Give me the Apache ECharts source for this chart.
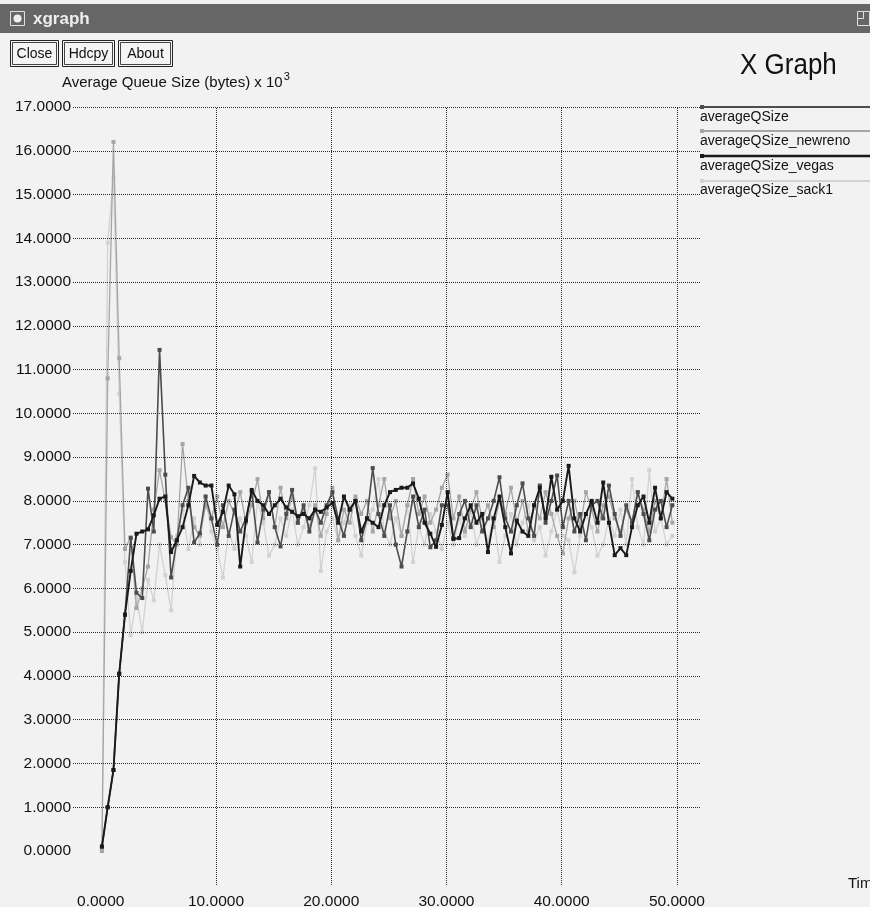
<!DOCTYPE html>
<html><head><meta charset="utf-8">
<script src="https://cdn.jsdelivr.net/npm/echarts@6/dist/echarts.min.js"></script>
<style>html,body{margin:0;padding:0;background:#f2f2f2}#c{width:870px;height:907px}</style>
</head><body><div id="c"></div><script>
const times = [0.1,0.6,1.1,1.6,2.1,2.6,3.1,3.6,4.1,4.6,5.1,5.6,6.1,6.6,7.1,7.6,8.1,8.6,9.1,9.6,
10.1,10.6,11.1,11.6,12.1,12.6,13.1,13.6,14.1,14.6,15.1,15.6,16.1,16.6,17.1,17.6,18.1,18.6,19.1,19.6,
20.1,20.6,21.1,21.6,22.1,22.6,23.1,23.6,24.1,24.6,25.1,25.6,26.1,26.6,27.1,27.6,28.1,28.6,29.1,29.6,
30.1,30.6,31.1,31.6,32.1,32.6,33.1,33.6,34.1,34.6,35.1,35.6,36.1,36.6,37.1,37.6,38.1,38.6,39.1,39.6,
40.1,40.6,41.1,41.6,42.1,42.6,43.1,43.6,44.1,44.6,45.1,45.6,46.1,46.6,47.1,47.6,48.1,48.6,49.1,49.6];

const averageQSize = [0.1,1.0,1.85,4.05,5.4,7.15,5.9,5.78,8.28,7.3,
11.45,8.6,6.25,7.1,7.9,8.3,7.05,7.26,8.1,7.6,
7.0,7.9,7.2,7.8,7.3,7.6,8.2,7.05,7.8,8.2,
7.4,6.96,7.7,8.25,7.5,7.9,7.3,7.8,7.5,7.9,
8.2,7.6,7.2,7.8,8.0,7.1,7.6,8.75,7.7,7.2,
7.9,7.0,6.5,7.3,8.1,7.4,7.8,6.94,7.1,7.9,
7.9,7.15,7.7,8.0,7.4,7.9,7.3,7.6,8.0,8.54,
7.6,7.3,7.9,8.4,7.6,7.2,8.35,7.5,8.0,8.58,
7.4,8.0,7.3,7.7,7.1,7.9,8.0,7.6,8.35,7.7,
7.2,7.9,7.5,8.2,7.7,7.1,7.8,8.0,7.4,7.9];

const newreno = [0.0,10.8,16.2,11.26,6.9,7.17,5.55,6.0,6.5,7.8,
8.7,8.0,7.17,7.0,9.3,8.0,7.4,7.2,7.9,7.6,
8.1,7.4,8.0,7.7,8.2,7.5,7.9,8.5,7.6,8.2,
7.4,8.3,7.6,8.1,7.5,7.8,7.4,7.9,7.2,7.7,
8.3,7.1,7.8,7.5,8.1,7.7,8.0,7.3,7.9,8.5,
7.6,8.0,7.2,7.9,8.5,7.7,8.1,7.5,7.8,8.3,
8.6,7.6,8.1,7.3,7.8,8.2,7.6,7.9,7.4,8.0,
7.7,8.3,7.5,8.0,7.3,7.9,7.6,8.2,7.7,7.2,
6.8,7.6,8.0,7.4,8.2,7.8,7.3,7.9,8.1,7.6,
7.3,7.8,7.5,8.2,7.8,7.3,8.0,7.6,8.5,7.5];

const vegas = [0.1,1.0,1.85,4.05,5.4,6.4,7.25,7.3,7.35,7.67,
8.05,8.1,6.83,7.1,7.4,7.9,8.57,8.42,8.35,8.35,
7.45,7.75,8.35,8.15,6.5,7.55,8.25,8.0,7.9,7.7,
7.9,8.05,7.85,7.75,7.65,7.7,7.6,7.8,7.75,7.85,
7.95,7.5,8.1,7.8,8.0,7.3,7.6,7.5,7.4,7.9,
8.2,8.25,8.3,8.3,8.4,8.05,7.5,7.25,6.95,7.45,
8.2,7.13,7.15,7.6,7.9,7.5,7.7,6.83,7.6,8.1,
7.4,6.8,7.55,7.3,7.2,7.9,8.3,7.6,8.55,7.8,
8.0,8.8,7.6,7.3,7.7,8.0,7.5,8.42,7.5,6.76,
6.92,6.76,7.4,7.9,8.1,7.5,8.3,7.6,8.2,8.05];

const sack1 = [0.0,13.9,15.4,10.45,6.6,4.93,5.8,5.0,6.2,5.73,
7.0,6.3,5.5,7.2,7.8,6.9,7.6,7.0,8.1,7.3,
6.9,6.25,7.3,6.9,7.6,7.2,6.6,8.0,7.5,6.75,
7.0,7.6,7.2,7.8,7.0,7.4,7.9,8.74,6.4,7.3,
7.6,7.1,7.5,7.9,7.2,6.75,7.5,7.8,8.5,7.3,
7.0,7.6,7.2,7.9,6.6,7.4,7.0,7.7,7.3,6.9,
7.5,7.0,7.6,7.2,7.8,7.0,7.4,7.1,7.6,6.6,
7.2,7.7,7.0,7.5,7.9,7.1,7.4,6.75,7.3,7.8,
7.2,7.1,6.37,7.2,7.7,7.4,6.75,7.0,7.6,7.2,
7.8,7.0,8.5,7.4,7.0,8.7,7.3,7.6,7.0,7.2];

const seriesNames = ['averageQSize','averageQSize_newreno','averageQSize_vegas','averageQSize_sack1'];
const xTickValues = [0,10,20,30,40,50];
const yTickValues = [0,1,2,3,4,5,6,7,8,9,10,11,12,13,14,15,16,17];
const xGridValues = [10,20,30,40,50];
const yGridValues = [1,2,3,4,5,6,7,8,9,10,11,12,13,14,15,16,17];

const FONT = '"Liberation Sans", Arial, Helvetica, sans-serif';
const styles = {
  averageQSize: {color:'#4d4d4d', width:1.6},
  averageQSize_newreno: {color:'#a6a6a6', width:1.3},
  averageQSize_vegas: {color:'#1a1a1a', width:1.9},
  averageQSize_sack1: {color:'#d2d2d2', width:1.3}
};
const valuesByName = {
  averageQSize: averageQSize,
  averageQSize_newreno: newreno,
  averageQSize_vegas: vegas,
  averageQSize_sack1: sack1
};
const drawOrder = ['averageQSize_sack1','averageQSize_newreno','averageQSize','averageQSize_vegas'];

const chart = echarts.init(document.getElementById('c'), null, {renderer:'canvas'});

const dataSeries = drawOrder.map((name, idx) => ({
  name: name,
  type: 'line',
  data: times.map((t, i) => [t, valuesByName[name][i]]),
  symbol: 'rect',
  symbolSize: 4,
  showAllSymbol: true,
  z: 3 + idx,
  lineStyle: {color: styles[name].color, width: styles[name].width},
  itemStyle: {color: styles[name].color},
  emphasis: {disabled: true},
  animation: false
}));

const gridDash = {color:'#2a2a2a', width:1, type:[1,1]};
const gridSeries = {
  name: 'grid',
  type: 'line',
  data: [],
  z: 1,
  silent: true,
  animation: false,
  markLine: {
    silent: true,
    symbol: ['none','none'],
    label: {show:false},
    animation: false,
    lineStyle: gridDash,
    emphasis: {disabled: true},
    data: yGridValues.map(v => ({yAxis: v})).concat(xGridValues.map(v => ({xAxis: v})))
  }
};

// measure axis title width for superscript placement
const mctx = document.createElement('canvas').getContext('2d');
const titleFont = '15px ' + FONT;
mctx.font = titleFont;
const titleText = 'Average Queue Size (bytes) x 10';
const titleW = mctx.measureText(titleText).width;

const legendY = [107, 131, 156, 181];
const legendTextY = [117, 141, 166, 190];
const legendGraphics = [];
seriesNames.forEach((name, i) => {
  const st = styles[name];
  legendGraphics.push({type:'line', shape:{x1:700, y1:legendY[i], x2:870, y2:legendY[i]},
    style:{stroke: st.color, lineWidth: st.width + 0.6}, z: 10});
  legendGraphics.push({type:'rect', shape:{x:700, y:legendY[i]-2, width:4, height:4},
    style:{fill: st.color}, z: 11});
  legendGraphics.push({type:'text', x:700, y:legendTextY[i], z: 11,
    style:{text: name, font:'14px ' + FONT, fill:'#111', textAlign:'left', textVerticalAlign:'middle', align:'left', verticalAlign:'middle'}});
});

const buttons = [[10, 48, 'Close'], [62, 52, 'Hdcpy'], [118, 54, 'About']];
const buttonGraphics = [];
buttons.forEach(b => {
  buttonGraphics.push({type:'rect', shape:{x:b[0]+0.5, y:40.5, width:b[1], height:26}, style:{fill:'#f4f4f4', stroke:'#222', lineWidth:1}});
  buttonGraphics.push({type:'rect', shape:{x:b[0]+2.5, y:42.5, width:b[1]-4, height:22}, style:{fill:'none', stroke:'#444', lineWidth:1}});
  buttonGraphics.push({type:'text', x:b[0] + b[1]/2 + 0.5, y:54, style:{text:b[2], font:'14px ' + FONT, fill:'#111', textAlign:'center', textVerticalAlign:'middle', align:'center', verticalAlign:'middle'}});
});

const option = {
  backgroundColor: '#f2f2f2',
  animation: false,
  grid: {left:73, right:170, top:107, bottom:22, containLabel:false, outerBoundsMode:'none'},
  xAxis: {
    type: 'value', min: -2.41, max: 52.0,
    axisLine: {show:false}, axisTick: {show:false}, splitLine: {show:false},
    axisLabel: {customValues: xTickValues, formatter: v => v.toFixed(4), margin: 9,
      fontSize: 15.5, fontFamily: FONT, color: '#111'}
  },
  yAxis: {
    type: 'value', min: -0.777, max: 17.0,
    axisLine: {show:false}, axisTick: {show:false}, splitLine: {show:false},
    axisLabel: {customValues: yTickValues, formatter: v => v.toFixed(4), margin: 2,
      fontSize: 15.5, fontFamily: FONT, color: '#111'}
  },
  series: [gridSeries].concat(dataSeries),
  graphic: {elements: [
    {type:'rect', shape:{x:0, y:4, width:870, height:29}, style:{fill:'#666666'}},
    {type:'rect', shape:{x:10.5, y:11.5, width:14, height:14}, style:{fill:'#666', stroke:'#e0e0e0', lineWidth:1}},
    {type:'circle', shape:{cx:17.5, cy:18.5, r:4}, style:{fill:'#eeeeee'}},
    {type:'text', x:33, y:19, style:{text:'xgraph', font:'bold 17px ' + FONT, fill:'#eeeeee', textAlign:'left', textVerticalAlign:'middle', align:'left', verticalAlign:'middle'}},
    {type:'rect', shape:{x:857.5, y:11.5, width:12, height:14}, style:{fill:'none', stroke:'#e0e0e0', lineWidth:1}},
    {type:'line', shape:{x1:857.5, y1:18.5, x2:863.5, y2:18.5}, style:{stroke:'#e0e0e0'}},
    {type:'line', shape:{x1:863.5, y1:11.5, x2:863.5, y2:18.5}, style:{stroke:'#e0e0e0'}}
  ].concat(buttonGraphics).concat([
    {type:'text', x:740, y:66, scaleY:1.12, originX:0, originY:0, style:{text:'X Graph', font:'26px ' + FONT, fill:'#111', textAlign:'left', textVerticalAlign:'middle', align:'left', verticalAlign:'middle'}},
    {type:'text', x:62, y:83, style:{text:titleText, font:titleFont, fill:'#111', textAlign:'left', textVerticalAlign:'middle', align:'left', verticalAlign:'middle'}},
    {type:'text', x:62 + titleW + 1, y:77, style:{text:'3', font:'11px ' + FONT, fill:'#111', textAlign:'left', textVerticalAlign:'middle', align:'left', verticalAlign:'middle'}},
    {type:'text', x:848, y:884, style:{text:'Tim', font:'15px ' + FONT, fill:'#111', textAlign:'left', textVerticalAlign:'middle', align:'left', verticalAlign:'middle'}}
  ]).concat(legendGraphics)}
};
chart.setOption(option);
</script></body></html>
